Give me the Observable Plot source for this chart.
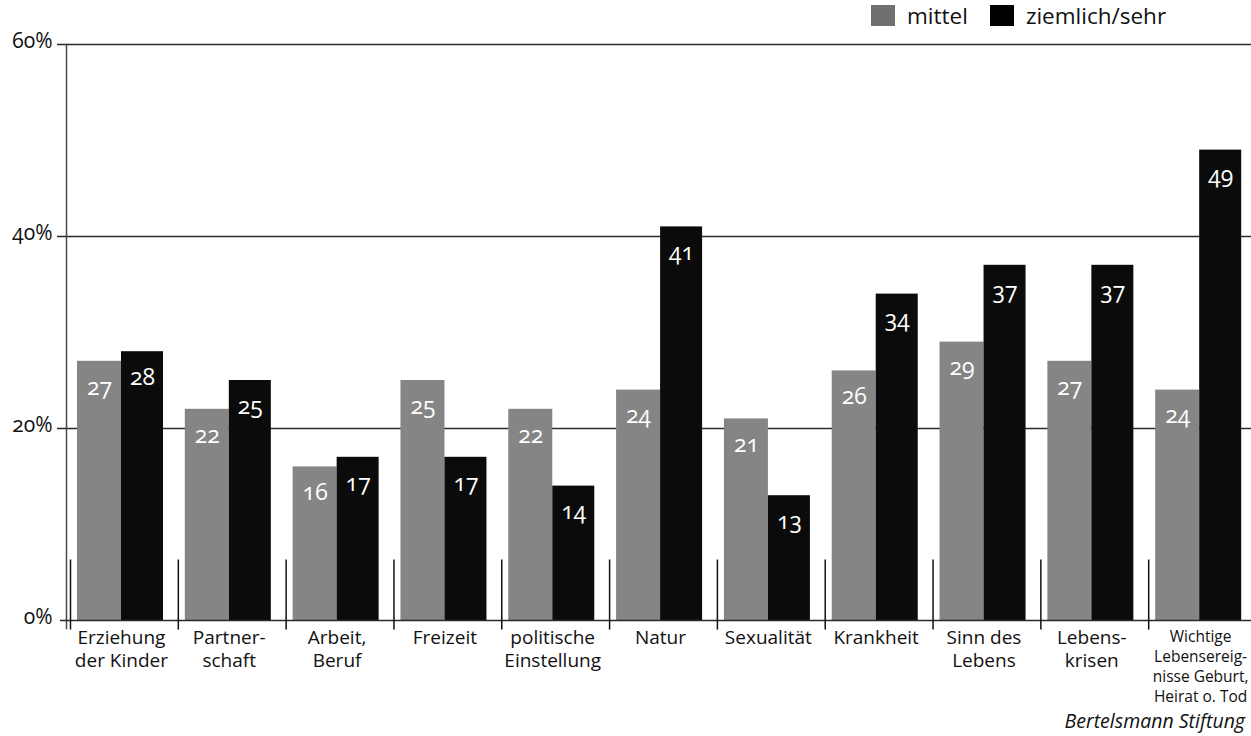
<!DOCTYPE html>
<html>
<head>
<meta charset="utf-8">
<script src="https://cdn.jsdelivr.net/npm/d3@7"></script>
<script src="https://cdn.jsdelivr.net/npm/@observablehq/plot@0.6"></script>
<style>
  body { margin: 0; background: #fff; font-family: "Open Sans", sans-serif; color: #111; }
  #wrap { width: 1251px; }
  .legend { height: 30px; display: flex; align-items: center; padding-left: 871px; font-size: 22.5px; }
  .legend .item { display: inline-flex; align-items: center; margin-right: 22px; }
  .legend .sw { display: inline-block; width: 24px; height: 21px; margin-right: 12px; }
  .caption { height: 30px; line-height: 30px; text-align: right; padding-right: 6px; font-style: italic; font-size: 19.5px; }
  #chart svg { overflow: visible; }
  svg text { font-variant-numeric: oldstyle-nums; }
</style>
</head>
<body>
<div id="wrap">
  <div class="legend">
    <span class="item"><span class="sw" style="background:#707070"></span>mittel</span>
    <span class="item"><span class="sw" style="background:#000"></span>ziemlich/sehr</span>
  </div>
  <div id="chart"></div>
  <div class="caption">Bertelsmann Stiftung</div>
</div>
<script>
// Themen und Anteile (in %) der Antworten "mittel" und "ziemlich/sehr"
const categories = [
  "Erziehung der Kinder", "Partnerschaft", "Arbeit, Beruf", "Freizeit",
  "politische Einstellung", "Natur", "Sexualität", "Krankheit",
  "Sinn des Lebens", "Lebenskrisen", "Wichtige Lebensereignisse"
];
const categoryLabels = [
  "Erziehung\nder Kinder", "Partner-\nschaft", "Arbeit,\nBeruf", "Freizeit",
  "politische\nEinstellung", "Natur", "Sexualität", "Krankheit",
  "Sinn des\nLebens", "Lebens-\nkrisen", "Wichtige\nLebensereig-\nnisse Geburt,\nHeirat o. Tod"
];
const mittel = [27, 22, 16, 25, 22, 24, 21, 26, 29, 27, 24];
const ziemlich = [28, 25, 17, 17, 14, 41, 13, 34, 37, 37, 49];
const yTicks = [0, 20, 40, 60];

const rows = categories.map((c, i) => ({
  category: c, label: categoryLabels[i], mittel: mittel[i], ziemlich: ziemlich[i]
}));

const W = 1251, H = 676;
const mL = 70, mR = -5;
const step = (W - mL - mR) / categories.length; // width of one category band
const longLabel = categories.length - 1;

const chart = Plot.plot({
  width: W,
  height: H,
  marginLeft: mL,
  marginRight: mR,
  marginTop: 14,
  marginBottom: 86,
  style: { fontFamily: "Open Sans, sans-serif", fontSize: "18px", color: "#111", background: "#fff" },
  x: { domain: categories, padding: 0, round: false, axis: null },
  y: { domain: [0, 60], axis: null },
  marks: [
    // horizontal grid
    Plot.ruleY(yTicks.filter(d => d > 0), { stroke: "#2a2a2a", strokeWidth: 1.5, insetLeft: -13 }),
    // vertical axis line
    Plot.frame({ anchor: "left", dx: -4, stroke: "#4a4a4a", strokeWidth: 1.5, insetBottom: -8 }),
    // bars
    Plot.barY(rows, { x: "category", y: "mittel", fill: "#858585", insetLeft: 7, insetRight: step - 51 }),
    Plot.barY(rows, { x: "category", y: "ziemlich", fill: "#0b0b0b", insetLeft: 51, insetRight: step - 93 }),
    // baseline
    Plot.ruleY([0], { stroke: "#2a2a2a", strokeWidth: 1.5, insetLeft: -10 }),
    // group separators
    Plot.ruleX(rows, { x: "category", dx: -step / 2, y1: 6.3, y2: -1, stroke: "#111", strokeWidth: 1.5 }),
    // value labels
    Plot.text(rows, { x: "category", y: "mittel", text: d => String(d.mittel), dx: 29 - step / 2, dy: 26, fill: "#fff", fontSize: 23 }),
    Plot.text(rows, { x: "category", y: "ziemlich", text: d => String(d.ziemlich), dx: 72 - step / 2, dy: 26, fill: "#fff", fontSize: 23 }),
    // y tick labels
    Plot.text(yTicks, { y: d => d, text: d => d + "%", frameAnchor: "left", textAnchor: "end", lineAnchor: "bottom", dx: -18, dy: 3, fontSize: 21, fill: "#111" }),
    // category labels
    Plot.text(rows.filter((d, i) => i !== longLabel), { x: "category", text: "label", dx: -3, frameAnchor: "bottom", lineAnchor: "top", dy: 7, fontSize: 19, lineHeight: 1.22, fill: "#111" }),
    Plot.text(rows.filter((d, i) => i === longLabel), { x: "category", text: "label", dx: -2, frameAnchor: "bottom", lineAnchor: "top", dy: 7, fontSize: 15.5, lineHeight: 1.29, fill: "#111" })
  ]
});
document.getElementById("chart").append(chart);
</script>
</body>
</html>
